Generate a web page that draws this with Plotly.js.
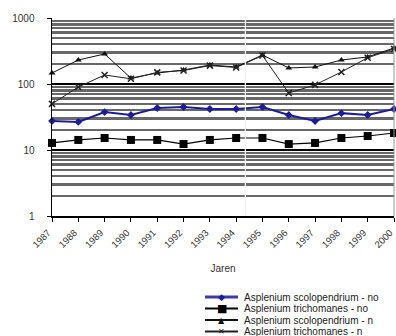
<!DOCTYPE html>
<html>
<head>
<meta charset="utf-8">
<script src="https://cdn.plot.ly/plotly-3.0.1.min.js"></script>
<style>html,body{margin:0;padding:0;background:#fff;}#chart{width:396px;height:336px;}</style>
</head>
<body>
<div id="chart"></div>
<script>
// Data
const years = ['1987','1988','1989','1990','1991','1992','1993','1994','1995','1996','1997','1998','1999','2000'];
const scolopendriumNo = [27.5, 26.6, 37.6, 33.9, 43.3, 44.8, 41.8, 41.8, 44.8, 33.9, 27.5, 36.2, 33.9, 41.8];
const trichomanesNo   = [12.8, 14.2, 15.2, 14.2, 14.2, 12.3, 14.2, 15.2, 15.2, 12.3, 12.8, 15.2, 16.3, 18.1];
const scolopendriumN  = [147, 231, 285, 123, 147, 163, 194, 181, 275, 175, 181, 231, 257, 351];
const trichomanesN    = [50, 90, 137, 120, 150, 160, 190, 178, 270, 73, 97, 152, 250, 340];
const seriesNames = ['Asplenium scolopendrium - no','Asplenium trichomanes - no','Asplenium scolopendrium - n','Asplenium trichomanes - n'];
const yTickVals = [1, 10, 100, 1000];
const yTickText = ['1', '10', '100', '1000'];
const xTitle = 'Jaren';

// Styles
const seriesValues = [scolopendriumNo, trichomanesNo, scolopendriumN, trichomanesN];
const colors = ['#1c1c9a', '#000000', '#111111', '#222222'];
const lineWidths = [2, 1.2, 1, 1];
const symbols = ['diamond', 'square', 'triangle-up', 'x-thin-open'];
const markerSizes = [6, 8, 6, 6];
const glyphs = ['\u25C6', '\u25A0', '\u25B2', '\u2715'];
const glyphSizes = [9, 11, 8, 8];

const traces = seriesValues.map((vals, i) => ({
  type: 'scatter', mode: 'lines+markers',
  x: years, y: vals, name: seriesNames[i],
  cliponaxis: false,
  line: {color: colors[i], width: lineWidths[i]},
  marker: {symbol: symbols[i], size: markerSizes[i], color: colors[i],
           line: {color: colors[i], width: i === 3 ? 1.5 : 0}}
}));

// plot area geometry (px)
const W = 396, H = 336, L = 52, R = 2, T = 18, B = 120;
const pw = W - L - R, ph = H - T - B;
const px2x = p => (p - L) / pw;
const py2y = p => (H - B - p) / ph;

const shapes = [
  {type: 'line', xref: 'x', yref: 'paper', x0: 7.35, x1: 7.35, y0: 0.005, y1: 1,
   line: {color: '#f4f4f4', width: 1.2}, layer: 'above'},
  {type: 'line', xref: 'paper', yref: 'paper', x0: 1, x1: 1, y0: 0, y1: 1,
   line: {color: '#999999', width: 1}}
];
const annotations = [];
seriesNames.forEach((nm, i) => {
  const py = 297 + 11.5 * i;
  shapes.push({type: 'line', xref: 'paper', yref: 'paper',
    x0: px2x(205), x1: px2x(238), y0: py2y(py), y1: py2y(py),
    line: {color: i === 0 ? '#3a3aa8' : colors[i], width: i === 0 ? 3 : 2}});
  annotations.push({xref: 'paper', yref: 'paper', x: px2x(221.5), y: py2y(py),
    text: glyphs[i], showarrow: false, xanchor: 'center', yanchor: 'middle',
    font: {family: 'DejaVu Sans', size: glyphSizes[i], color: colors[i]}});
  annotations.push({xref: 'paper', yref: 'paper', x: px2x(242), y: py2y(py),
    text: nm, showarrow: false, xanchor: 'left', yanchor: 'middle',
    font: {family: 'Liberation Sans, Arial', size: 10, color: '#222'}});
});

const layout = {
  width: W, height: H,
  margin: {l: L, r: R, t: T, b: B, pad: 0},
  paper_bgcolor: '#ffffff', plot_bgcolor: '#ffffff',
  showlegend: false,
  font: {family: 'Liberation Sans, Arial', size: 10, color: '#333'},
  xaxis: {
    type: 'category', range: [0, years.length - 1],
    showgrid: false, zeroline: false,
    showline: true, linecolor: '#000', linewidth: 1.5,
    ticks: 'outside', ticklen: 4, tickcolor: '#000', tickwidth: 1,
    tickangle: -45, tickfont: {size: 9.5, color: '#333'},
    ticklabelshift: -4, ticklabelstandoff: 2,
    title: {text: xTitle, font: {size: 10, color: '#333'}, standoff: 16},
    automargin: false
  },
  yaxis: {
    type: 'log', range: [0, 3],
    tickvals: yTickVals, ticktext: yTickText,
    showgrid: true, gridcolor: '#000000', gridwidth: 1.8,
    minor: {showgrid: true, gridcolor: '#686868', gridwidth: 2.4, dtick: 'D1', ticks: ''},
    zeroline: false,
    showline: true, linecolor: '#000', linewidth: 1.5,
    ticks: 'outside', ticklen: 4, tickcolor: '#000',
    ticklabelstandoff: 10,
    tickfont: {size: 10, color: '#333'},
    automargin: false
  },
  shapes: shapes,
  annotations: annotations
};

Plotly.newPlot('chart', traces, layout, {displayModeBar: false, staticPlot: true});
</script>
</body>
</html>
